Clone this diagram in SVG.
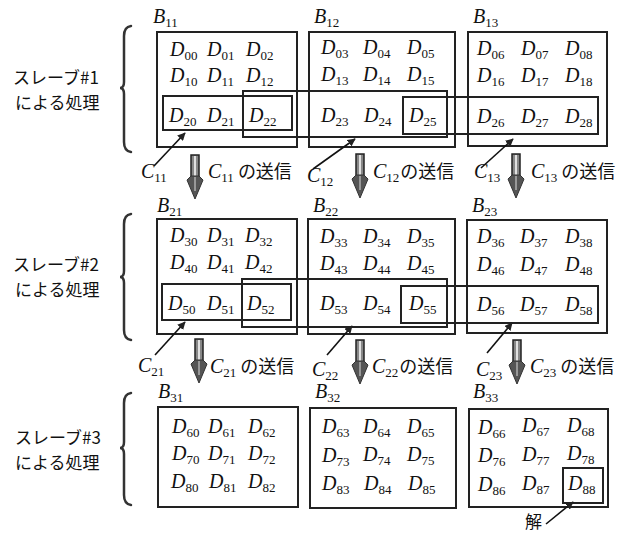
<svg xmlns="http://www.w3.org/2000/svg" width="625" height="534" viewBox="0 0 625 534">
<style>
.bg{fill:#fff}
.box{fill:none;stroke:#222;stroke-width:2}
.in{fill:none;stroke:#222;stroke-width:2}
.d{font-family:"Liberation Serif",serif;font-style:italic;font-size:20px;fill:#111}
.s{font-size:13px;font-style:normal}
.jp{font-family:"Noto Sans CJK JP",sans-serif;font-size:18px;font-style:normal;fill:#111}
.lbl{font-family:"Noto Sans CJK JP",sans-serif;font-size:17px;fill:#111}
.brace{fill:none;stroke:#333;stroke-width:2.5;stroke-linecap:round}
.ptr{fill:none;stroke:#111;stroke-width:1.6}
</style>
<defs>
<marker id="ah" viewBox="0 0 10 10" refX="9" refY="5" markerWidth="5" markerHeight="5" orient="auto">
<path d="M0,0 L10,5 L0,10 z" fill="#222"/>
</marker>
<g id="dn">
<rect x="-4" y="0" width="8" height="24" fill="#888" stroke="#222" stroke-width="1.5"/>
<line x1="0" y1="1" x2="0" y2="24" stroke="#fff" stroke-width="1.5"/>
<polygon points="-4,21 -8,25 0,44 8,25 4,21" fill="#555" stroke="#333" stroke-width="1"/>
<line x1="0" y1="22" x2="0" y2="36" stroke="#ddd" stroke-width="1"/>
</g>
</defs>
<rect class="bg" width="625" height="534"/>

<g id="labels">
<g id="slave1"><text class="lbl" x="13" y="84">スレーブ#1</text><text class="lbl" x="15" y="109">による処理</text>
<path class="brace" d="M131,26 Q124,27 124,36 L124,82 Q124,88 120,88 Q124,88 124,94 L124,142 Q124,151 131,152"/></g>
<g id="slave2"><text class="lbl" x="13" y="271">スレーブ#2</text><text class="lbl" x="15" y="296">による処理</text>
<path class="brace" d="M131,214 Q124,215 124,224 L124,271 Q124,277 120,277 Q124,277 124,283 L124,330 Q124,339 131,340"/></g>
<g id="slave3"><text class="lbl" x="15" y="444">スレーブ#3</text><text class="lbl" x="15" y="469">による処理</text>
<path class="brace" d="M131,393 Q124,394 124,403 L124,442 Q124,448 120,448 Q124,448 124,454 L124,495 Q124,504 131,505"/></g>
</g>

<g id="B11"><rect class="box" x="157" y="32" width="140" height="115"/><text class="d" x="153" y="23">B<tspan class="s" dy="4">11</tspan></text></g>
<g id="B12"><rect class="box" x="309" y="32" width="146" height="115"/><text class="d" x="314" y="23">B<tspan class="s" dy="4">12</tspan></text></g>
<g id="B13"><rect class="box" x="468" y="32" width="139" height="114"/><text class="d" x="473" y="23">B<tspan class="s" dy="4">13</tspan></text></g>
<g id="B21"><rect class="box" x="157" y="219" width="140" height="115"/><text class="d" x="157" y="212">B<tspan class="s" dy="4">21</tspan></text></g>
<g id="B22"><rect class="box" x="308" y="219" width="147" height="115"/><text class="d" x="313" y="212">B<tspan class="s" dy="4">22</tspan></text></g>
<g id="B23"><rect class="box" x="467" y="220" width="140" height="113"/><text class="d" x="472" y="212">B<tspan class="s" dy="4">23</tspan></text></g>
<g id="B31"><rect class="box" x="158" y="407" width="140" height="100"/><text class="d" x="158" y="398">B<tspan class="s" dy="4">31</tspan></text></g>
<g id="B32"><rect class="box" x="310" y="408" width="146" height="100"/><text class="d" x="315" y="398">B<tspan class="s" dy="4">32</tspan></text></g>
<g id="B33"><rect class="box" x="469" y="409" width="139" height="98"/><text class="d" x="473" y="398">B<tspan class="s" dy="4">33</tspan></text></g>

<g id="ranges">
<rect class="in" x="163" y="96" width="129" height="34"/>
<rect class="in" x="243" y="91" width="204" height="46"/>
<rect class="in" x="403" y="97" width="195" height="37"/>
<rect class="in" x="162" y="284" width="129" height="36"/>
<rect class="in" x="242" y="279" width="205" height="48"/>
<rect class="in" x="401" y="286" width="197" height="37"/>
<rect class="in" x="563" y="468" width="40" height="35"/>
</g>

<g id="cells">
<text class="d" x="170" y="56">D<tspan class="s" dy="4">00</tspan></text>
<text class="d" x="207" y="56">D<tspan class="s" dy="4">01</tspan></text>
<text class="d" x="246" y="56">D<tspan class="s" dy="4">02</tspan></text>
<text class="d" x="321" y="54">D<tspan class="s" dy="4">03</tspan></text>
<text class="d" x="363" y="54">D<tspan class="s" dy="4">04</tspan></text>
<text class="d" x="407" y="54">D<tspan class="s" dy="4">05</tspan></text>
<text class="d" x="477" y="55">D<tspan class="s" dy="4">06</tspan></text>
<text class="d" x="521" y="55">D<tspan class="s" dy="4">07</tspan></text>
<text class="d" x="565" y="55">D<tspan class="s" dy="4">08</tspan></text>
<text class="d" x="170" y="82">D<tspan class="s" dy="4">10</tspan></text>
<text class="d" x="207" y="82">D<tspan class="s" dy="4">11</tspan></text>
<text class="d" x="246" y="82">D<tspan class="s" dy="4">12</tspan></text>
<text class="d" x="321" y="81">D<tspan class="s" dy="4">13</tspan></text>
<text class="d" x="363" y="81">D<tspan class="s" dy="4">14</tspan></text>
<text class="d" x="407" y="81">D<tspan class="s" dy="4">15</tspan></text>
<text class="d" x="477" y="82">D<tspan class="s" dy="4">16</tspan></text>
<text class="d" x="521" y="82">D<tspan class="s" dy="4">17</tspan></text>
<text class="d" x="565" y="82">D<tspan class="s" dy="4">18</tspan></text>
<text class="d" x="169" y="122">D<tspan class="s" dy="4">20</tspan></text>
<text class="d" x="207" y="122">D<tspan class="s" dy="4">21</tspan></text>
<text class="d" x="249" y="122">D<tspan class="s" dy="4">22</tspan></text>
<text class="d" x="321" y="122">D<tspan class="s" dy="4">23</tspan></text>
<text class="d" x="364" y="122">D<tspan class="s" dy="4">24</tspan></text>
<text class="d" x="409" y="122">D<tspan class="s" dy="4">25</tspan></text>
<text class="d" x="477" y="123">D<tspan class="s" dy="4">26</tspan></text>
<text class="d" x="521" y="123">D<tspan class="s" dy="4">27</tspan></text>
<text class="d" x="565" y="123">D<tspan class="s" dy="4">28</tspan></text>

<text class="d" x="170" y="242">D<tspan class="s" dy="4">30</tspan></text>
<text class="d" x="207" y="242">D<tspan class="s" dy="4">31</tspan></text>
<text class="d" x="245" y="242">D<tspan class="s" dy="4">32</tspan></text>
<text class="d" x="320" y="243">D<tspan class="s" dy="4">33</tspan></text>
<text class="d" x="363" y="243">D<tspan class="s" dy="4">34</tspan></text>
<text class="d" x="407" y="243">D<tspan class="s" dy="4">35</tspan></text>
<text class="d" x="477" y="243">D<tspan class="s" dy="4">36</tspan></text>
<text class="d" x="520" y="243">D<tspan class="s" dy="4">37</tspan></text>
<text class="d" x="565" y="243">D<tspan class="s" dy="4">38</tspan></text>
<text class="d" x="170" y="269">D<tspan class="s" dy="4">40</tspan></text>
<text class="d" x="207" y="269">D<tspan class="s" dy="4">41</tspan></text>
<text class="d" x="245" y="269">D<tspan class="s" dy="4">42</tspan></text>
<text class="d" x="320" y="270">D<tspan class="s" dy="4">43</tspan></text>
<text class="d" x="363" y="270">D<tspan class="s" dy="4">44</tspan></text>
<text class="d" x="407" y="270">D<tspan class="s" dy="4">45</tspan></text>
<text class="d" x="477" y="271">D<tspan class="s" dy="4">46</tspan></text>
<text class="d" x="520" y="271">D<tspan class="s" dy="4">47</tspan></text>
<text class="d" x="565" y="271">D<tspan class="s" dy="4">48</tspan></text>
<text class="d" x="168" y="310">D<tspan class="s" dy="4">50</tspan></text>
<text class="d" x="207" y="310">D<tspan class="s" dy="4">51</tspan></text>
<text class="d" x="247" y="310">D<tspan class="s" dy="4">52</tspan></text>
<text class="d" x="320" y="310">D<tspan class="s" dy="4">53</tspan></text>
<text class="d" x="363" y="310">D<tspan class="s" dy="4">54</tspan></text>
<text class="d" x="409" y="310">D<tspan class="s" dy="4">55</tspan></text>
<text class="d" x="477" y="311">D<tspan class="s" dy="4">56</tspan></text>
<text class="d" x="520" y="311">D<tspan class="s" dy="4">57</tspan></text>
<text class="d" x="565" y="311">D<tspan class="s" dy="4">58</tspan></text>

<text class="d" x="172" y="433">D<tspan class="s" dy="4">60</tspan></text>
<text class="d" x="208" y="433">D<tspan class="s" dy="4">61</tspan></text>
<text class="d" x="248" y="433">D<tspan class="s" dy="4">62</tspan></text>
<text class="d" x="322" y="433">D<tspan class="s" dy="4">63</tspan></text>
<text class="d" x="363" y="433">D<tspan class="s" dy="4">64</tspan></text>
<text class="d" x="407" y="433">D<tspan class="s" dy="4">65</tspan></text>
<text class="d" x="478" y="434">D<tspan class="s" dy="4">66</tspan></text>
<text class="d" x="522" y="432">D<tspan class="s" dy="4">67</tspan></text>
<text class="d" x="567" y="432">D<tspan class="s" dy="4">68</tspan></text>
<text class="d" x="172" y="460">D<tspan class="s" dy="4">70</tspan></text>
<text class="d" x="208" y="460">D<tspan class="s" dy="4">71</tspan></text>
<text class="d" x="248" y="460">D<tspan class="s" dy="4">72</tspan></text>
<text class="d" x="322" y="462">D<tspan class="s" dy="4">73</tspan></text>
<text class="d" x="363" y="461">D<tspan class="s" dy="4">74</tspan></text>
<text class="d" x="407" y="461">D<tspan class="s" dy="4">75</tspan></text>
<text class="d" x="478" y="462">D<tspan class="s" dy="4">76</tspan></text>
<text class="d" x="522" y="461">D<tspan class="s" dy="4">77</tspan></text>
<text class="d" x="567" y="460">D<tspan class="s" dy="4">78</tspan></text>
<text class="d" x="171" y="488">D<tspan class="s" dy="4">80</tspan></text>
<text class="d" x="209" y="488">D<tspan class="s" dy="4">81</tspan></text>
<text class="d" x="248" y="488">D<tspan class="s" dy="4">82</tspan></text>
<text class="d" x="322" y="490">D<tspan class="s" dy="4">83</tspan></text>
<text class="d" x="364" y="490">D<tspan class="s" dy="4">84</tspan></text>
<text class="d" x="408" y="490">D<tspan class="s" dy="4">85</tspan></text>
<text class="d" x="478" y="491">D<tspan class="s" dy="4">86</tspan></text>
<text class="d" x="522" y="490">D<tspan class="s" dy="4">87</tspan></text>
<text class="d" x="568" y="490">D<tspan class="s" dy="4">88</tspan></text>
</g>

<g id="connectors">
<line class="ptr" x1="154" y1="166" x2="185" y2="133" marker-end="url(#ah)"/>
<line class="ptr" x1="313" y1="169" x2="355" y2="139" marker-end="url(#ah)"/>
<line class="ptr" x1="481" y1="168" x2="513" y2="139" marker-end="url(#ah)"/>
<line class="ptr" x1="155" y1="355" x2="185" y2="322" marker-end="url(#ah)"/>
<line class="ptr" x1="327" y1="355" x2="352" y2="326" marker-end="url(#ah)"/>
<line class="ptr" x1="487" y1="353" x2="512" y2="323" marker-end="url(#ah)"/>
<line class="ptr" x1="546" y1="524" x2="573" y2="502" marker-end="url(#ah)"/>
<use href="#dn" x="195" y="155"/>
<use href="#dn" x="360" y="154"/>
<use href="#dn" x="516" y="154"/>
<use href="#dn" x="199" y="339"/>
<use href="#dn" x="360" y="340"/>
<use href="#dn" x="517" y="340"/>
</g>

<g id="clabels">
<text class="d" x="141" y="178">C<tspan class="s" dy="4">11</tspan></text>
<text class="d" x="208" y="178">C<tspan class="s" dy="4">11</tspan><tspan class="jp" dx="4" dy="-4">の送信</tspan></text>
<text class="d" x="307" y="182">C<tspan class="s" dy="4">12</tspan></text>
<text class="d" x="373" y="178">C<tspan class="s" dy="4">12</tspan><tspan class="jp" dx="1" dy="-4">の送信</tspan></text>
<text class="d" x="474" y="178">C<tspan class="s" dy="4">13</tspan></text>
<text class="d" x="531" y="178">C<tspan class="s" dy="4">13</tspan><tspan class="jp" dx="4" dy="-4">の送信</tspan></text>
<text class="d" x="138" y="372">C<tspan class="s" dy="4">21</tspan></text>
<text class="d" x="210" y="373">C<tspan class="s" dy="4">21</tspan><tspan class="jp" dx="4" dy="-4">の送信</tspan></text>
<text class="d" x="312" y="376">C<tspan class="s" dy="4">22</tspan></text>
<text class="d" x="372" y="373">C<tspan class="s" dy="4">22</tspan><tspan class="jp" dx="1" dy="-4">の送信</tspan></text>
<text class="d" x="476" y="376">C<tspan class="s" dy="4">23</tspan></text>
<text class="d" x="530" y="373">C<tspan class="s" dy="4">23</tspan><tspan class="jp" dx="4" dy="-4">の送信</tspan></text>
<text class="lbl" x="525" y="528">解</text>
</g>
</svg>
